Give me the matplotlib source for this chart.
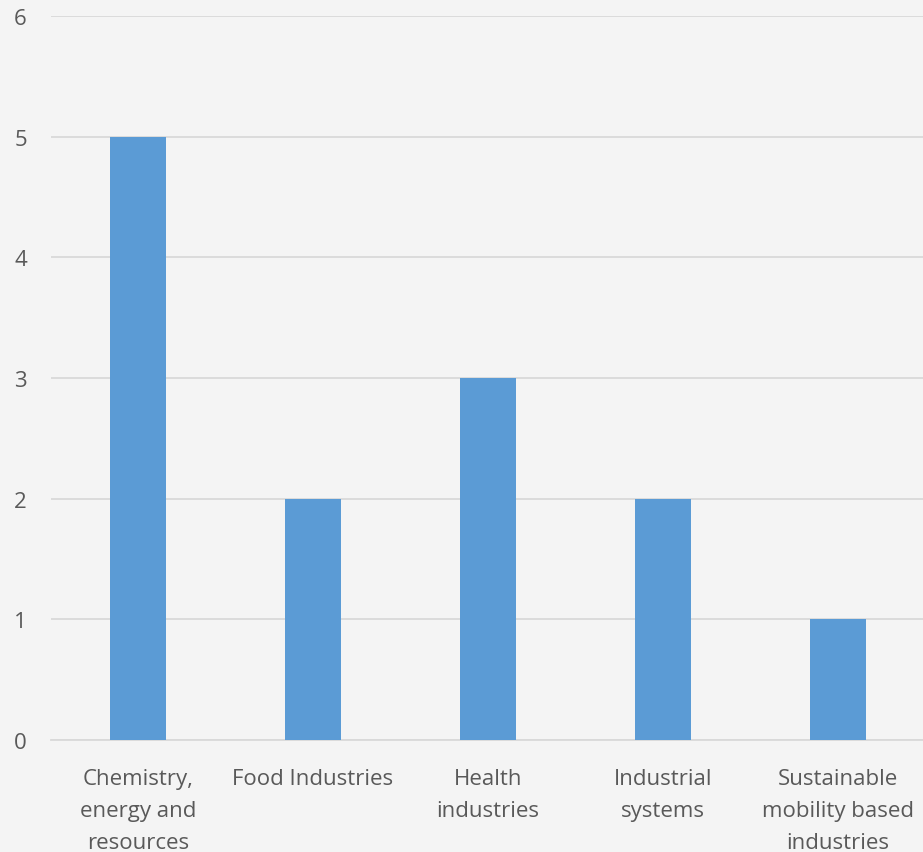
import numpy as np
import matplotlib.pyplot as plt

categories = ['Chemistry,\nenergy and\nresources', 'Food Industries', 'Health\nindustries',
              'Industrial\nsystems', 'Sustainable\nmobility based\nindustries']
values = [5, 2, 3, 2, 1]

plt.rcParams['font.family'] = ['Open Sans', 'DejaVu Sans']

bg = '#f4f4f4'
fig = plt.figure(figsize=(9.23, 8.53), dpi=100, facecolor=bg)
ax = fig.add_axes([50.5/923, 1-741/853, 875/923, (741-17)/853], facecolor=bg)

x = np.arange(len(categories))
ax.bar(x, values, width=0.32, color='#5b9bd5', zorder=3)

ax.set_xlim(-0.5, len(categories)-0.5)
ax.set_ylim(0, 6)
ax.set_yticks(range(0, 7))
ax.set_xticks(x)
ax.set_xticklabels(categories, linespacing=1.68)
ax.grid(axis='y', color='#d9d9d9', linewidth=1.3, zorder=0)
for s in ['top', 'right', 'left']:
    ax.spines[s].set_visible(False)
ax.spines['bottom'].set_color('#d9d9d9')
ax.spines['bottom'].set_linewidth(1.3)
ax.tick_params(axis='both', length=0, labelsize=16, labelcolor='#595959')
ax.tick_params(axis='y', pad=17)
ax.tick_params(axis='x', pad=20)

fig.savefig('out.png', dpi=100, facecolor=bg)
